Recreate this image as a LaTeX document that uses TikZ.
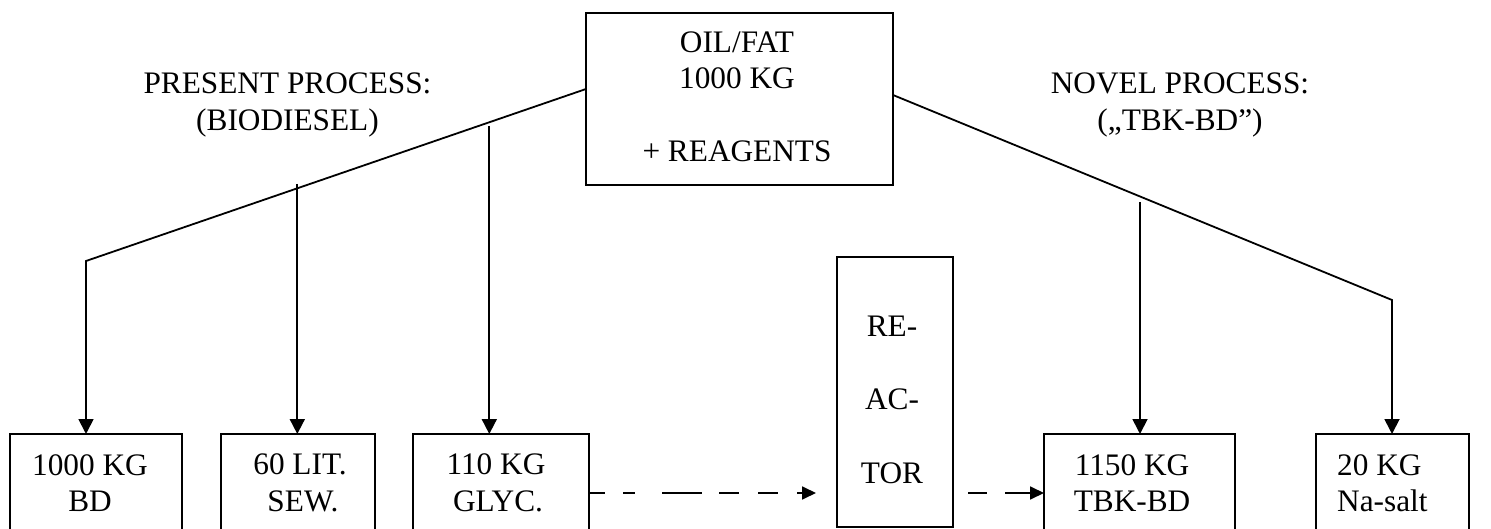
\documentclass[tikz,border=0pt]{standalone}
\usepackage{fontspec}
\setmainfont{Liberation Serif}
\usetikzlibrary{arrows.meta}
\begin{document}
\begin{tikzpicture}[x=1pt,y=-1pt,
  box/.style={draw,line width=1.6pt,anchor=north west,inner sep=0pt,outer sep=0pt},
  txt/.style={align=center,inner sep=0pt,font=\fontsize{31.3}{36.5}\selectfont},
  txtl/.style={align=left,inner sep=0pt,font=\fontsize{31.3}{36.5}\selectfont},
  conn/.style={line width=1.8pt,-{Triangle[width=15pt,length=15pt]}},
  dconn/.style={line width=1.8pt,-{Triangle[width=13pt,length=14pt]}}]
\useasboundingbox (0,0) rectangle (1491,529);
\clip (0,0) rectangle (1491,529);
% boxes
\node[box,minimum width=307pt,minimum height=172pt] (oil) at (586,13) {};
\node[box,minimum width=172pt,minimum height=98pt] (bd) at (10,434) {};
\node[box,minimum width=154pt,minimum height=98pt] (sew) at (221,434) {};
\node[box,minimum width=176pt,minimum height=98pt] (glyc) at (413,434) {};
\node[box,minimum width=116pt,minimum height=270pt] (reac) at (837,257) {};
\node[box,minimum width=191pt,minimum height=98pt] (tbk) at (1044,434) {};
\node[box,minimum width=153pt,minimum height=98pt] (na) at (1316,434) {};
% texts
\node[txt] (toil) at (737,97) {OIL/FAT\\1000 KG\\[36.5pt]+ REAGENTS};
\node[txt] (present) at (287.5,105) {PRESENT PROCESS:\\(BIODIESEL)};
\node[txt] (novel) at (1180,105) {NOVEL PROCESS:\\(„TBK-BD”)};
\node[txt] (tbd) at (90,483) {1000 KG\\BD};
\node[txt] (tsew) at (300,483) {60 LIT.\\\hspace*{6pt}SEW.};
\node[txt] (tglyc) at (496,483) {110 KG\\\hspace*{4pt}GLYC.};
\node[txt] (treac) at (892,399.5) {RE-\\[37pt]AC-\\[37pt]TOR};
\node[txt] (ttbk) at (1132,483) {1150 KG\\TBK-BD};
\node[txtl,anchor=west] (tna) at (1337,483) {20 KG\\Na-salt};
% helper coordinates
\coordinate (bendL) at (86,261);
\coordinate (bendR) at (1392,300);
\coordinate (s1) at (297.3,184);
\coordinate (s2) at (489.3,126);
\coordinate (s3) at (1140,202);
\coordinate (dy) at (0,493);
% connectors
\draw[conn] ([yshift=10pt]oil.west) -- (bendL) -- (bendL |- bd.north);
\draw[conn] (s1) -- (s1 |- sew.north);
\draw[conn] (s2) -- (s2 |- glyc.north);
\draw[conn] ([yshift=4pt]oil.east) -- (bendR) -- (bendR |- na.north);
\draw[conn] (s3) -- (s3 |- tbk.north);
\draw[dconn,shorten >=21pt,
  dash pattern=on 16pt off 18pt on 12pt off 27pt on 40pt off 17pt on 20pt off 19pt on 20pt off 19pt on 40pt]
  (glyc.east |- dy) -- (reac.west |- dy);
\draw[dconn,shorten <=15pt,dash pattern=on 19pt off 18pt on 100pt]
  (reac.east |- dy) -- (tbk.west |- dy);
\end{tikzpicture}
\end{document}
